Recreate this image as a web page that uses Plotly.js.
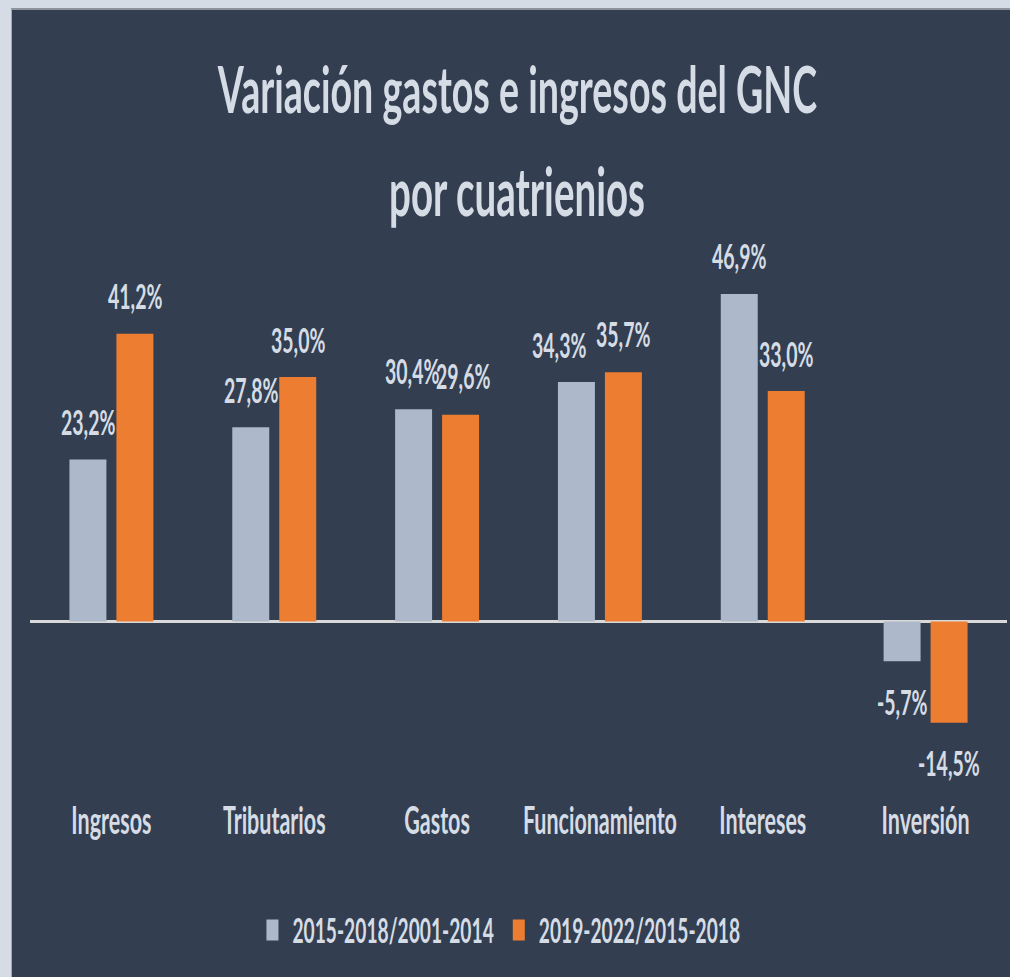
<!DOCTYPE html>
<html>
<head>
<meta charset="utf-8">
<script src="https://cdn.plot.ly/plotly-3.0.1.min.js"></script>
<style>
  html, body { margin: 0; padding: 0; background: #d6dce5; width: 1010px; height: 977px; overflow: hidden; }
  #frame { position: absolute; left: 11px; top: 8px; width: 999px; height: 969px;
           border-top: 2px solid #8e949b; border-left: 1px solid #a3a9b0; background: #333f50; overflow: hidden; }
  #chart { position: absolute; left: 0; top: 0; width: 998px; height: 553px;
           transform: scaleY(1.7486); transform-origin: 0 0; }
</style>
</head>
<body>
<div id="frame"><div id="chart"></div></div>
<script>
const categories = ['Ingresos', 'Tributarios', 'Gastos', 'Funcionamiento', 'Intereses', 'Inversión'];
const seriesNames = ['2015-2018/2001-2014', '2019-2022/2015-2018'];
const series1 = [23.2, 27.8, 30.4, 34.3, 46.9, -5.7];
const series2 = [41.2, 35.0, 29.6, 35.7, 33.0, -14.5];
const titleLines = ['Variación gastos e ingresos del GNC', 'por cuatrienios'];

const TXT = '#d6dce5';
const FONT = 'Lato, "Open Sans", "DejaVu Sans", sans-serif';
const fmt = v => v.toFixed(1).replace('.', ',') + '%';

const traces = [
  { type: 'bar', name: seriesNames[0], x: categories, y: series1, marker: { color: '#adb9ca' }, hoverinfo: 'none' },
  { type: 'bar', name: seriesNames[1], x: categories, y: series2, marker: { color: '#ed7d31' }, hoverinfo: 'none' }
];

// label placement nudge (series index, category index) -> extra x shift in px
const nudge = { '0-3': -17, '0-2': -2, '1-2': 2 };

const annotations = [];
[[series1, -23.5], [series2, 23.5]].forEach(([vals, dx], s) => {
  vals.forEach((v, i) => {
    annotations.push({
      x: categories[i], y: v, xref: 'x', yref: 'y', text: fmt(v), showarrow: false,
      xshift: dx + (nudge[s + '-' + i] || 0), yanchor: v >= 0 ? 'bottom' : 'top', yshift: v >= 0 ? 8 : -9,
      font: { family: FONT, size: 19.5, color: TXT, weight: 700 }
    });
  });
});
titleLines.forEach((t, i) => {
  annotations.push({
    text: t, xref: 'paper', yref: 'paper', x: 0.498, xanchor: 'center',
    y: i === 0 ? 1.352 : 1.158, yanchor: 'middle', showarrow: false,
    font: { family: FONT, size: i === 0 ? 37.6 : 38.5, color: TXT, weight: 700 }
  });
});

const layout = {
  width: 998, height: 553,
  margin: { l: 18, r: 3, t: 150, b: 103.6 },
  paper_bgcolor: '#333f50', plot_bgcolor: '#333f50',
  barmode: 'group', bargap: 0.423, bargroupgap: 0.213,
  xaxis: {
    type: 'category', showgrid: false, showline: false, zeroline: false,
    ticks: '', tickfont: { family: FONT, size: 21.5, color: TXT, weight: 700 }
  },
  yaxis: {
    range: [-24.85, 50], showgrid: false, showticklabels: false, ticks: '', showline: false,
    zeroline: true, zerolinecolor: '#d9d9d9', zerolinewidth: 1.2
  },
  showlegend: true,
  legend: {
    orientation: 'h', x: 0.48, xanchor: 'center', y: -0.258, yanchor: 'middle',
    font: { family: FONT, size: 19.2, color: TXT, weight: 700 }, bgcolor: 'rgba(0,0,0,0)'
  },
  annotations: annotations
};

Plotly.newPlot('chart', traces, layout, { displayModeBar: false, staticPlot: true });
</script>
</body>
</html>
